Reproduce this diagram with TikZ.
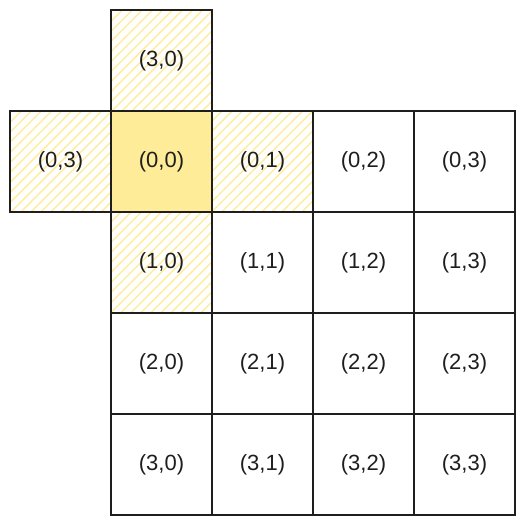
\documentclass[tikz,border=0pt]{standalone}
\usepackage{fontspec}
\setmainfont{Liberation Sans}
\usetikzlibrary{positioning,patterns.meta}
\definecolor{ink}{HTML}{1E1E1E}
\definecolor{hl}{HTML}{FFEC99}
\tikzset{
  cell/.style={draw=ink, line width=0.75pt, minimum size=1cm, outer sep=0pt,
    inner sep=0pt, text=ink, font=\fontsize{6.2}{7}\selectfont},
  hatched/.style={cell, pattern={Lines[angle=45,distance=2pt,line width=0.4pt]},
    pattern color=hl},
  start/.style={cell, fill=hl},
  cell 00/.style={start},
  cell 01/.style={hatched},
  cell 10/.style={hatched}
}

\begin{document}
\begin{tikzpicture}
  \useasboundingbox (0,0) rectangle (5.208,-5.188);

  % main grid
  \foreach \r in {0,...,3} {
    \foreach \c in {0,...,3} {
      \node [cell, cell \r\c/.try] (c\r\c) at (1.599+\c, -1.599-\r) {(\r,\c)};
    }
  }

  % wrap-around neighbours
  \node [hatched, above=0pt of c00] (top) {(3,0)};
  \node [hatched, left=0pt of c00] (left) {(0,3)};
\end{tikzpicture}
\end{document}
